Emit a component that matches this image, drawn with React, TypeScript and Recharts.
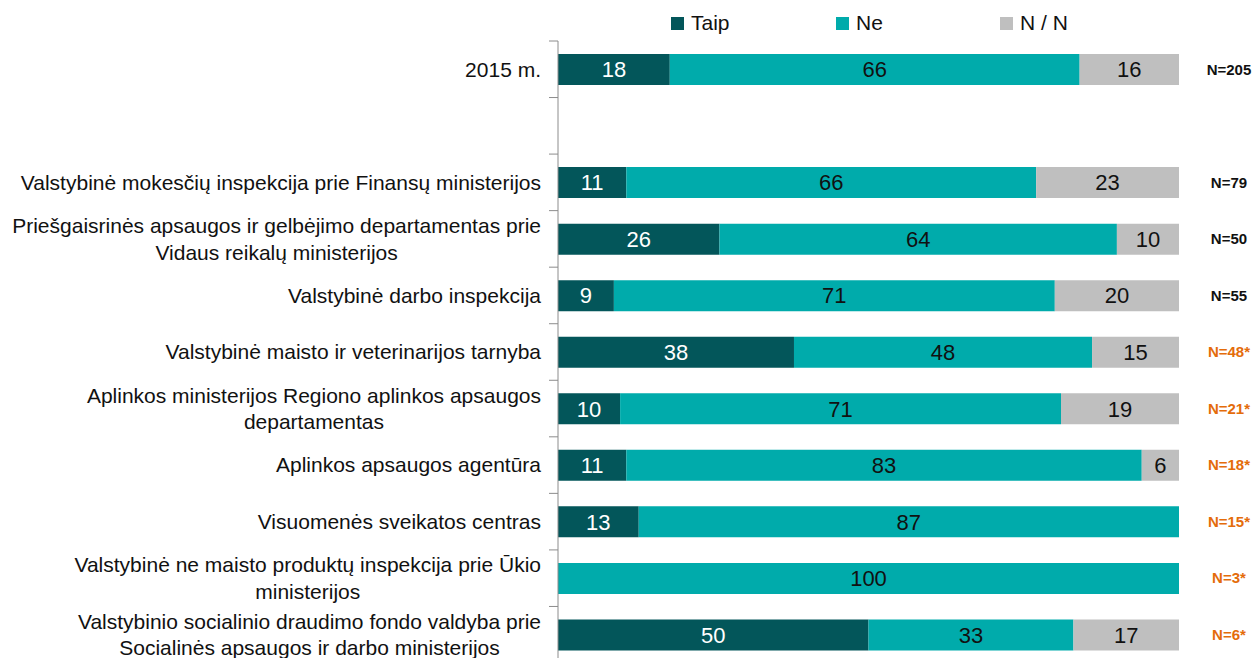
import { BarChart, Bar, XAxis, YAxis, LabelList } from "recharts";

const categories = [
  "2015 m.",
  "",
  "Valstybinė mokesčių inspekcija prie Finansų ministerijos",
  "Priešgaisrinės apsaugos ir gelbėjimo departamentas prie\nVidaus reikalų ministerijos",
  "Valstybinė darbo inspekcija",
  "Valstybinė maisto ir veterinarijos tarnyba",
  "Aplinkos ministerijos Regiono aplinkos apsaugos\ndepartamentas",
  "Aplinkos apsaugos agentūra",
  "Visuomenės sveikatos centras",
  "Valstybinė ne maisto produktų inspekcija prie Ūkio\nministerijos",
  "Valstybinio socialinio draudimo fondo valdyba prie\nSocialinės apsaugos ir darbo ministerijos",
];
const taip = [18, null, 11, 26, 9, 38, 10, 11, 13, 0, 50];
const ne = [66, null, 66, 64, 71, 48, 71, 83, 87, 100, 33];
const nn = [16, null, 23, 10, 20, 15, 19, 6, 0, 0, 17];
const sampleSizes = ["N=205", "", "N=79", "N=50", "N=55", "N=48*", "N=21*", "N=18*", "N=15*", "N=3*", "N=6*"];

const COLORS = { taip: "#03565A", ne: "#00ABAB", nn: "#BFBFBF" };
const ORANGE = "#E46C0A";
const FONT = '"Liberation Sans", Arial, sans-serif';
const LABEL_FONT_SIZE = 21;

const data = categories.map((name, i) => ({
  name,
  taip: taip[i],
  ne: ne[i],
  nn: nn[i],
}));

const H = 670;
const MARGIN = { top: 41, right: 0, bottom: 7, left: 0 };
const BAND = (H - MARGIN.top - MARGIN.bottom) / categories.length;

let ctx: CanvasRenderingContext2D | null = null;
function textWidth(t: string) {
  if (!ctx) ctx = document.createElement("canvas").getContext("2d");
  if (!ctx) return t.length * 10;
  ctx.font = `${LABEL_FONT_SIZE}px ${FONT}`;
  return ctx.measureText(t).width;
}

const CategoryTick = (props: any) => {
  const { x, y, payload } = props;
  const lines = String(payload.value).split("\n").filter((l) => l);
  const w = lines.length ? Math.max(...lines.map(textWidth)) : 0;
  const right = x - 17;
  const cx = right - w / 2;
  const lh = 26.5;
  const startY = y - ((lines.length - 1) * lh) / 2;
  return (
    <g>
      <line x1={x - 9} x2={x} y1={y - BAND / 2} y2={y - BAND / 2} stroke="#8c8c8c" />
      <text textAnchor="middle" fontSize={LABEL_FONT_SIZE} fill="#111" fontFamily={FONT}>
        {lines.map((l, i) => (
          <tspan key={i} x={cx} y={startY + i * lh} dy="0.35em">
            {l}
          </tspan>
        ))}
      </text>
    </g>
  );
};

const SampleTick = (props: any) => {
  const { x, y, index } = props;
  const label = sampleSizes[index] || "";
  return (
    <text
      x={x + 50}
      y={y}
      dy="0.35em"
      textAnchor="middle"
      fontSize={15}
      fontWeight="bold"
      fontFamily={FONT}
      fill={label.includes("*") ? ORANGE : "#111"}
    >
      {label}
    </text>
  );
};

const hideEmpty = (v: any) => (v ? v : "");

const legendItems = [
  { name: "Taip", color: COLORS.taip, left: 671 },
  { name: "Ne", color: COLORS.ne, left: 836 },
  { name: "N / N", color: COLORS.nn, left: 1000 },
];

export default function App() {
  return (
    <div style={{ position: "absolute", left: 0, top: 0, width: 1260, height: 658, overflow: "hidden", fontFamily: FONT, background: "#fff" }}>
      {legendItems.map((it) => (
        <div
          key={it.name}
          style={{ position: "absolute", left: it.left, top: 11, display: "flex", alignItems: "center", fontSize: 21, color: "#111" }}
        >
          <span style={{ width: 13, height: 13, background: it.color, display: "inline-block", marginRight: 7 }} />
          {it.name}
        </div>
      ))}
      <BarChart width={1260} height={H} data={data} layout="vertical" margin={MARGIN} barSize={31}>
        <XAxis type="number" domain={[0, 100]} allowDataOverflow hide />
        <YAxis
          yAxisId="main"
          type="category"
          dataKey="name"
          width={558}
          axisLine={{ stroke: "#8c8c8c" }}
          tickLine={false}
          tickSize={0}
          tickMargin={0}
          tick={<CategoryTick />}
          interval={0}
        />
        <YAxis
          yAxisId="n"
          orientation="right"
          type="category"
          dataKey="name"
          width={81}
          axisLine={false}
          tickLine={false}
          tickSize={0}
          tickMargin={0}
          tick={<SampleTick />}
          interval={0}
        />
        <Bar yAxisId="main" dataKey="taip" stackId="a" fill={COLORS.taip} isAnimationActive={false}>
          <LabelList dataKey="taip" position="center" fill="#fff" fontSize={22} formatter={hideEmpty} />
        </Bar>
        <Bar yAxisId="main" dataKey="ne" stackId="a" fill={COLORS.ne} isAnimationActive={false}>
          <LabelList dataKey="ne" position="center" fill="#111" fontSize={22} formatter={hideEmpty} />
        </Bar>
        <Bar yAxisId="main" dataKey="nn" stackId="a" fill={COLORS.nn} isAnimationActive={false}>
          <LabelList dataKey="nn" position="center" fill="#111" fontSize={22} formatter={hideEmpty} />
        </Bar>
      </BarChart>
    </div>
  );
}
